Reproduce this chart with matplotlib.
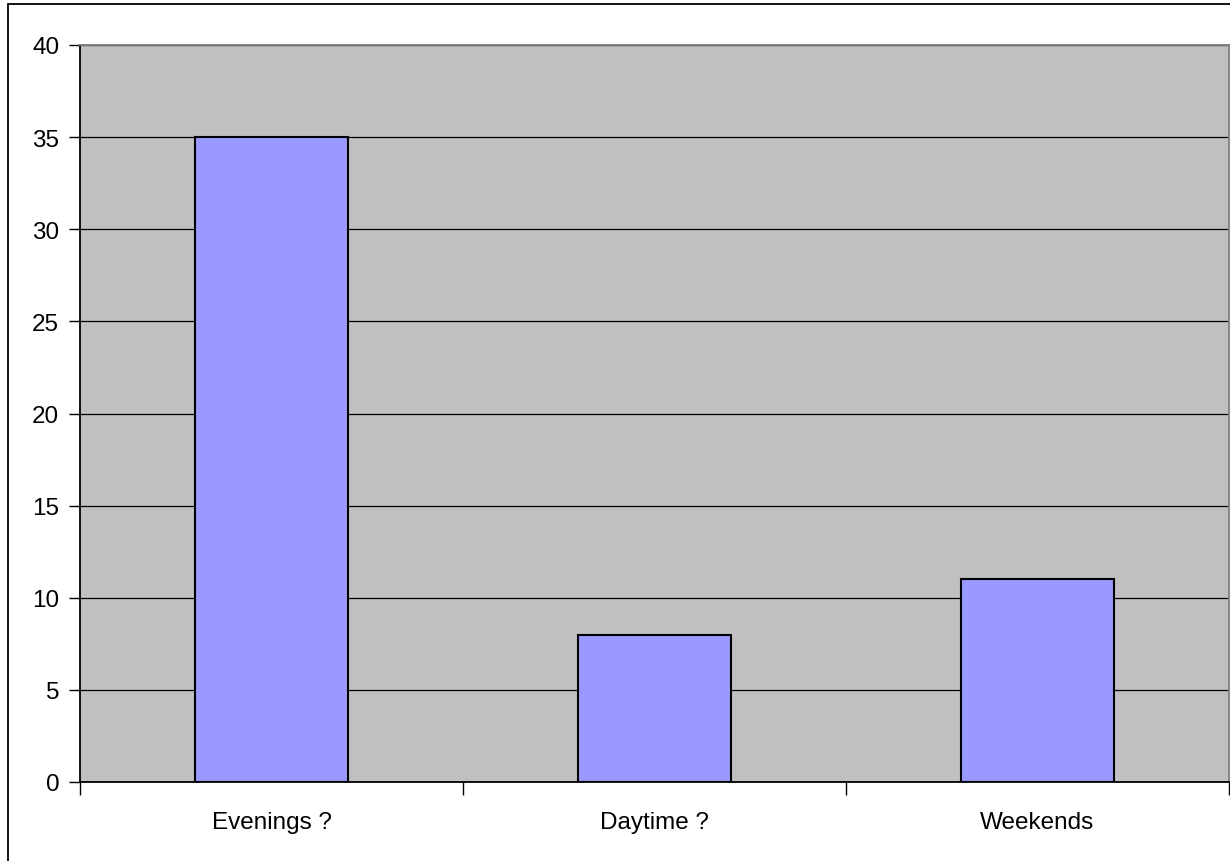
import matplotlib
matplotlib.use("Agg")
import matplotlib.pyplot as plt
from matplotlib.patches import Rectangle

categories = ["Evenings ?", "Daytime ?", "Weekends"]
values = [35, 8, 11]
yticks = [0, 5, 10, 15, 20, 25, 30, 35, 40]

plt.rcParams['font.family'] = ['Liberation Sans', 'DejaVu Sans']

W, H = 1230, 862
fig = plt.figure(figsize=(W / 100, H / 100), dpi=100)
fig.patch.set_facecolor("white")

# outer chart border (right/bottom cut off)
fig.add_artist(Rectangle((8 / W, -0.1), 1.2, 1 - 5 / H + 0.1, transform=fig.transFigure,
                         fill=False, edgecolor="black", linewidth=1.3))

ax = fig.add_axes([80 / W, (H - 783) / H, (1229 - 80) / W, (783 - 46) / H])
ax.set_facecolor("#C0C0C0")

x = list(range(len(categories)))
ax.bar(x, values, width=0.40, color="#9999FF", edgecolor="black", linewidth=1.5, zorder=3)

ax.set_xlim(-0.5, len(categories) - 0.5)
ax.set_ylim(0, 40)
ax.set_yticks(yticks)
ax.set_yticklabels([str(v) for v in yticks])
ax.yaxis.grid(True, color="black", linewidth=0.9, zorder=1)
ax.set_axisbelow(True)

ax.set_xticks([i - 0.5 for i in range(len(categories) + 1)], minor=False)
ax.set_xticklabels([""] * (len(categories) + 1))
ax.set_xticks(x, minor=True)
ax.set_xticklabels(categories, minor=True)
ax.tick_params(axis="x", which="minor", length=0, pad=21, labelsize=17.5)
ax.tick_params(axis="x", which="major", length=9, width=1, color="black")
ax.tick_params(axis="y", length=8, width=1, pad=7, labelsize=17.5, color="black")

for s in ["left", "bottom"]:
    ax.spines[s].set_color("black")
    ax.spines[s].set_linewidth(1.3)
for s in ["top", "right"]:
    ax.spines[s].set_color("#808080")
    ax.spines[s].set_linewidth(1.3)

fig.savefig("out.png", dpi=100)
